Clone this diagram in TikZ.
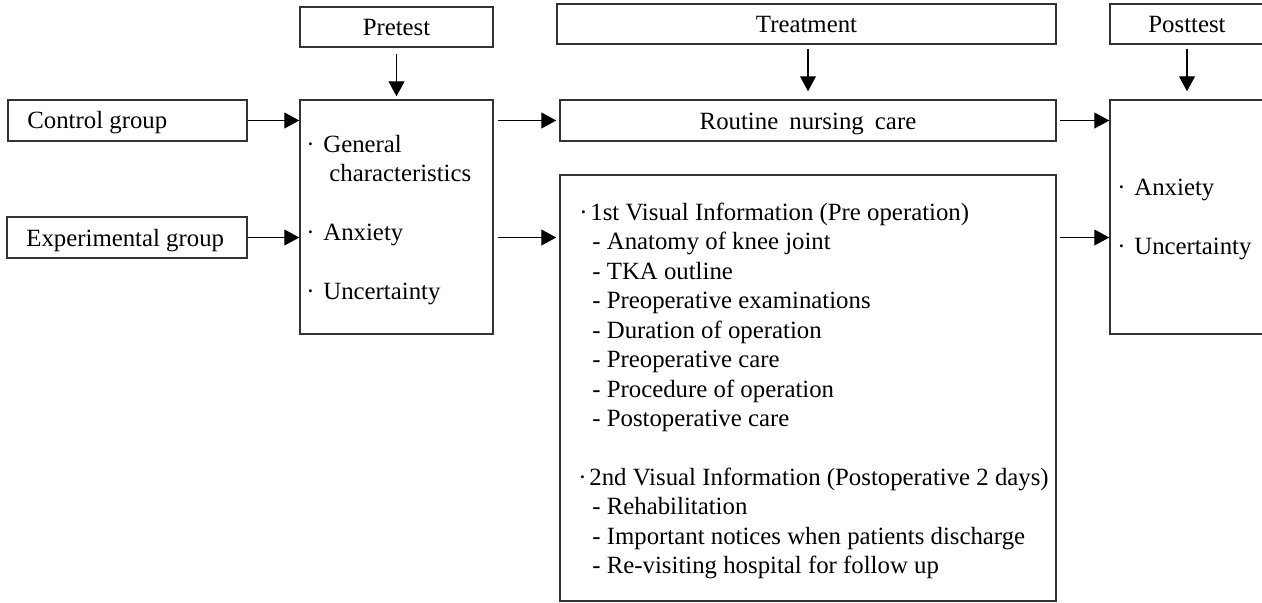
\documentclass[tikz,border=0pt]{standalone}
\usepackage{fontspec}
\setmainfont{Liberation Serif}
\usetikzlibrary{arrows.meta}
\newcommand\mybul[1]{\makebox[#1][l]{·}}
\tikzset{
  box/.style={draw=black!80, line width=0.75pt, rectangle, inner sep=0pt, text height=8.8pt, text depth=0pt},
  txt/.style={anchor=base west, inner sep=0pt},
  arr/.style={draw=black, line width=0.55pt, -{Triangle[length=7.5pt,width=8pt]}},
}
\begin{document}
\begin{tikzpicture}[x=0.5pt, y=-0.5pt, font=\fontsize{12.4pt}{14.7pt}\selectfont]
\clip (0,0) rectangle (1262,602);
% top boxes
\node[box, minimum width=96.5pt, minimum height=20pt] (pre) at (396.5,27) {Pretest};
\node[box, minimum width=249.5pt, minimum height=20pt] (treat) at (806.5,24) {Treatment};
\node[box, minimum width=77pt, minimum height=20pt] (post) at (1187,24) {Posttest};
% group boxes
\node[box, minimum width=119.5pt, minimum height=20.5pt] (ctrl) at (127.5,120.5) {};
\node[box, minimum width=120pt, minimum height=20.5pt] (exp) at (127,237.5) {};
\node[txt] (ctrlt) at (27,128.5) {Control group};
\node[txt] (expt) at (26,246.5) {Experimental group};
% main boxes
\node[box, minimum width=96.5pt, minimum height=117pt] (pmain) at (396.5,217) {};
\node[box, minimum width=248pt, minimum height=20.5pt] (routine) at (808,120.5) {Routine\hspace{0.45em}nursing\hspace{0.45em}care};
\node[box, minimum width=248pt, minimum height=213pt] (visual) at (808,388) {};
\node[box, minimum width=77pt, minimum height=117pt] (postm) at (1187,217) {};
% pretest text
\node[txt] (p1) at (306,152) {\mybul{8.5pt}General};
\node[txt] (p2) at (329,181) {characteristics};
\node[txt] (p3) at (306,240) {\mybul{8.5pt}Anxiety};
\node[txt] (p4) at (306,299) {\mybul{8.5pt}Uncertainty};
% posttest text
\node[txt] (q1) at (1117,195.5) {\mybul{8.5pt}Anxiety};
\node[txt] (q2) at (1117,254.5) {\mybul{8.5pt}Uncertainty};
% visual information text
\node[txt] (v1) at (579,220) {\mybul{5.5pt}1st Visual Information (Pre operation)};
\node[txt] (v2) at (592,249.5) {- Anatomy of knee joint};
\node[txt] (v3) at (592,279) {- TKA outline};
\node[txt] (v4) at (592,308.5) {- Preoperative examinations};
\node[txt] (v5) at (592,338) {- Duration of operation};
\node[txt] (v6) at (592,367.5) {- Preoperative care};
\node[txt] (v7) at (592,397) {- Procedure of operation};
\node[txt] (v8) at (592,426.5) {- Postoperative care};
\node[txt] (v9) at (578,485) {\mybul{5.5pt}2nd Visual Information (Postoperative 2 days)};
\node[txt] (v10) at (592,514.5) {- Rehabilitation};
\node[txt] (v11) at (592,544) {- Important notices when patients discharge};
\node[txt] (v12) at (592,573.5) {- Re-visiting hospital for follow up};
% vertical arrows
\draw[arr, shorten <=3pt, shorten >=1.5pt] (pre.south) -- (pre.south |- pmain.north);
\draw[arr, shorten <=2pt, shorten >=4pt] (treat.south -| routine.north) -- (routine.north);
\draw[arr, shorten <=2pt, shorten >=4pt] (post.south) -- (post.south |- postm.north);
% horizontal arrows
\draw[arr] (ctrl.east) -- (pmain.west |- ctrl.east);
\draw[arr] (exp.east) -- (pmain.west |- exp.east);
\draw[arr, shorten <=2pt, shorten >=1.5pt] (pmain.east |- routine.west) -- (routine.west);
\draw[arr, shorten <=2pt, shorten >=1.5pt] (pmain.east |- exp.east) -- (visual.west |- exp.east);
\draw[arr, shorten <=1.5pt] (routine.east) -- (postm.west |- routine.east);
\draw[arr, shorten <=1.5pt] (visual.east |- exp.east) -- (postm.west |- exp.east);
\end{tikzpicture}
\end{document}
